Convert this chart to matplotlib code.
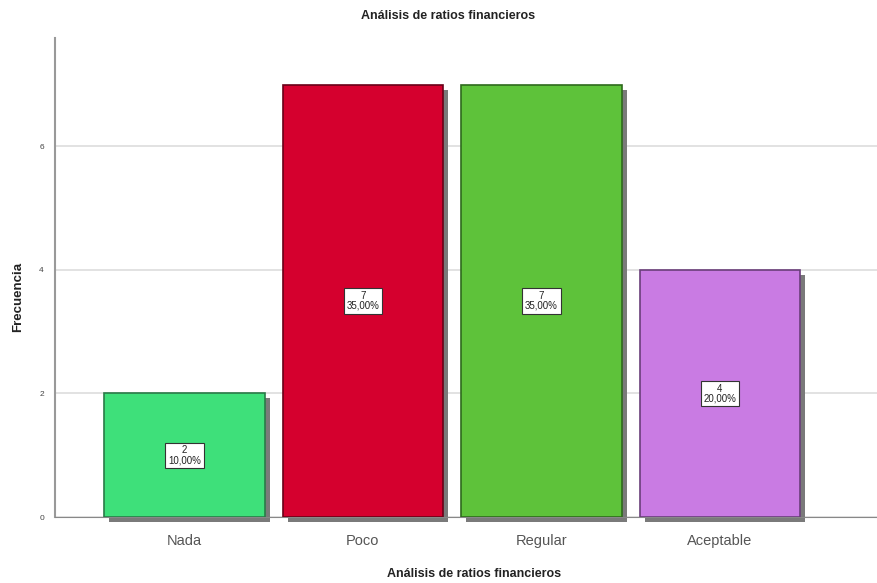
import matplotlib
matplotlib.use('Agg')
import matplotlib.pyplot as plt
import matplotlib.transforms as mtransforms
import numpy as np

plt.rcParams['font.family'] = ['Liberation Sans', 'DejaVu Sans']

categorias = ['Nada', 'Poco', 'Regular', 'Aceptable']
frecuencias = [2, 7, 7, 4]
porcentajes = ['10,00%', '35,00%', '35,00%', '20,00%']
colores = ['#3ee07a', '#d5002e', '#5ec23a', '#c97be3']
bordes = ['#2a7a48', '#6a0018', '#2e6a1c', '#6a3e7a']
yticks = [0, 2, 4, 6]

fig = plt.figure(figsize=(8.77, 5.83), dpi=100)
ax = fig.add_axes([0.0627, 0.1132, 0.9373, 0.822])

x = np.arange(len(categorias))
ancho = 0.9

# sombra de las barras (estilo SPSS)
desplaz = ax.transData + mtransforms.ScaledTranslation(5/100, -5/100, fig.dpi_scale_trans)
sombras = ax.bar(x, frecuencias, width=ancho, color='#7a7a7a', zorder=2)
for s in sombras:
    s.set_transform(desplaz)
    s.set_clip_on(False)

ax.bar(x, frecuencias, width=ancho, color=colores, edgecolor=bordes, linewidth=1.2, zorder=3)

for xi, h, p in zip(x, frecuencias, porcentajes):
    ax.text(xi, h / 2, '%d\n%s' % (h, p), ha='center', va='center', fontsize=7,
            color='#222222', linespacing=0.95, zorder=5,
            bbox=dict(boxstyle='square,pad=0.3', fc='white', ec='#333333', lw=0.8))

ax.set_xlim(-0.725, 3.88)
ax.set_ylim(0, 7.76)
ax.set_yticks(yticks)
ax.set_yticklabels([str(t) for t in yticks], fontsize=6, color='#444444')
ax.set_xticks(x)
ax.set_xticklabels(categorias, fontsize=10.5, color='#555555')
ax.tick_params(axis='x', length=0, pad=12)
ax.tick_params(axis='y', length=0, pad=8)
ax.yaxis.grid(True, color='#dddddd', linewidth=1.2, zorder=0)
ax.set_axisbelow(True)

for s in ['top', 'right']:
    ax.spines[s].set_visible(False)
ax.spines['left'].set_color('#999999')
ax.spines['left'].set_linewidth(1.5)
ax.spines['bottom'].set_color('#888888')

fig.text(0.511, 0.972, 'Análisis de ratios financieros', ha='center', va='center',
         fontsize=9, fontweight='bold', color='#222222')
fig.text(0.54, 0.015, 'Análisis de ratios financieros', ha='center', va='center',
         fontsize=9, fontweight='bold', color='#222222')
fig.text(0.021, 0.49, 'Frecuencia', ha='center', va='center', rotation=90,
         fontsize=9.5, fontweight='bold', color='#222222')

plt.savefig('out.png', dpi=100)
